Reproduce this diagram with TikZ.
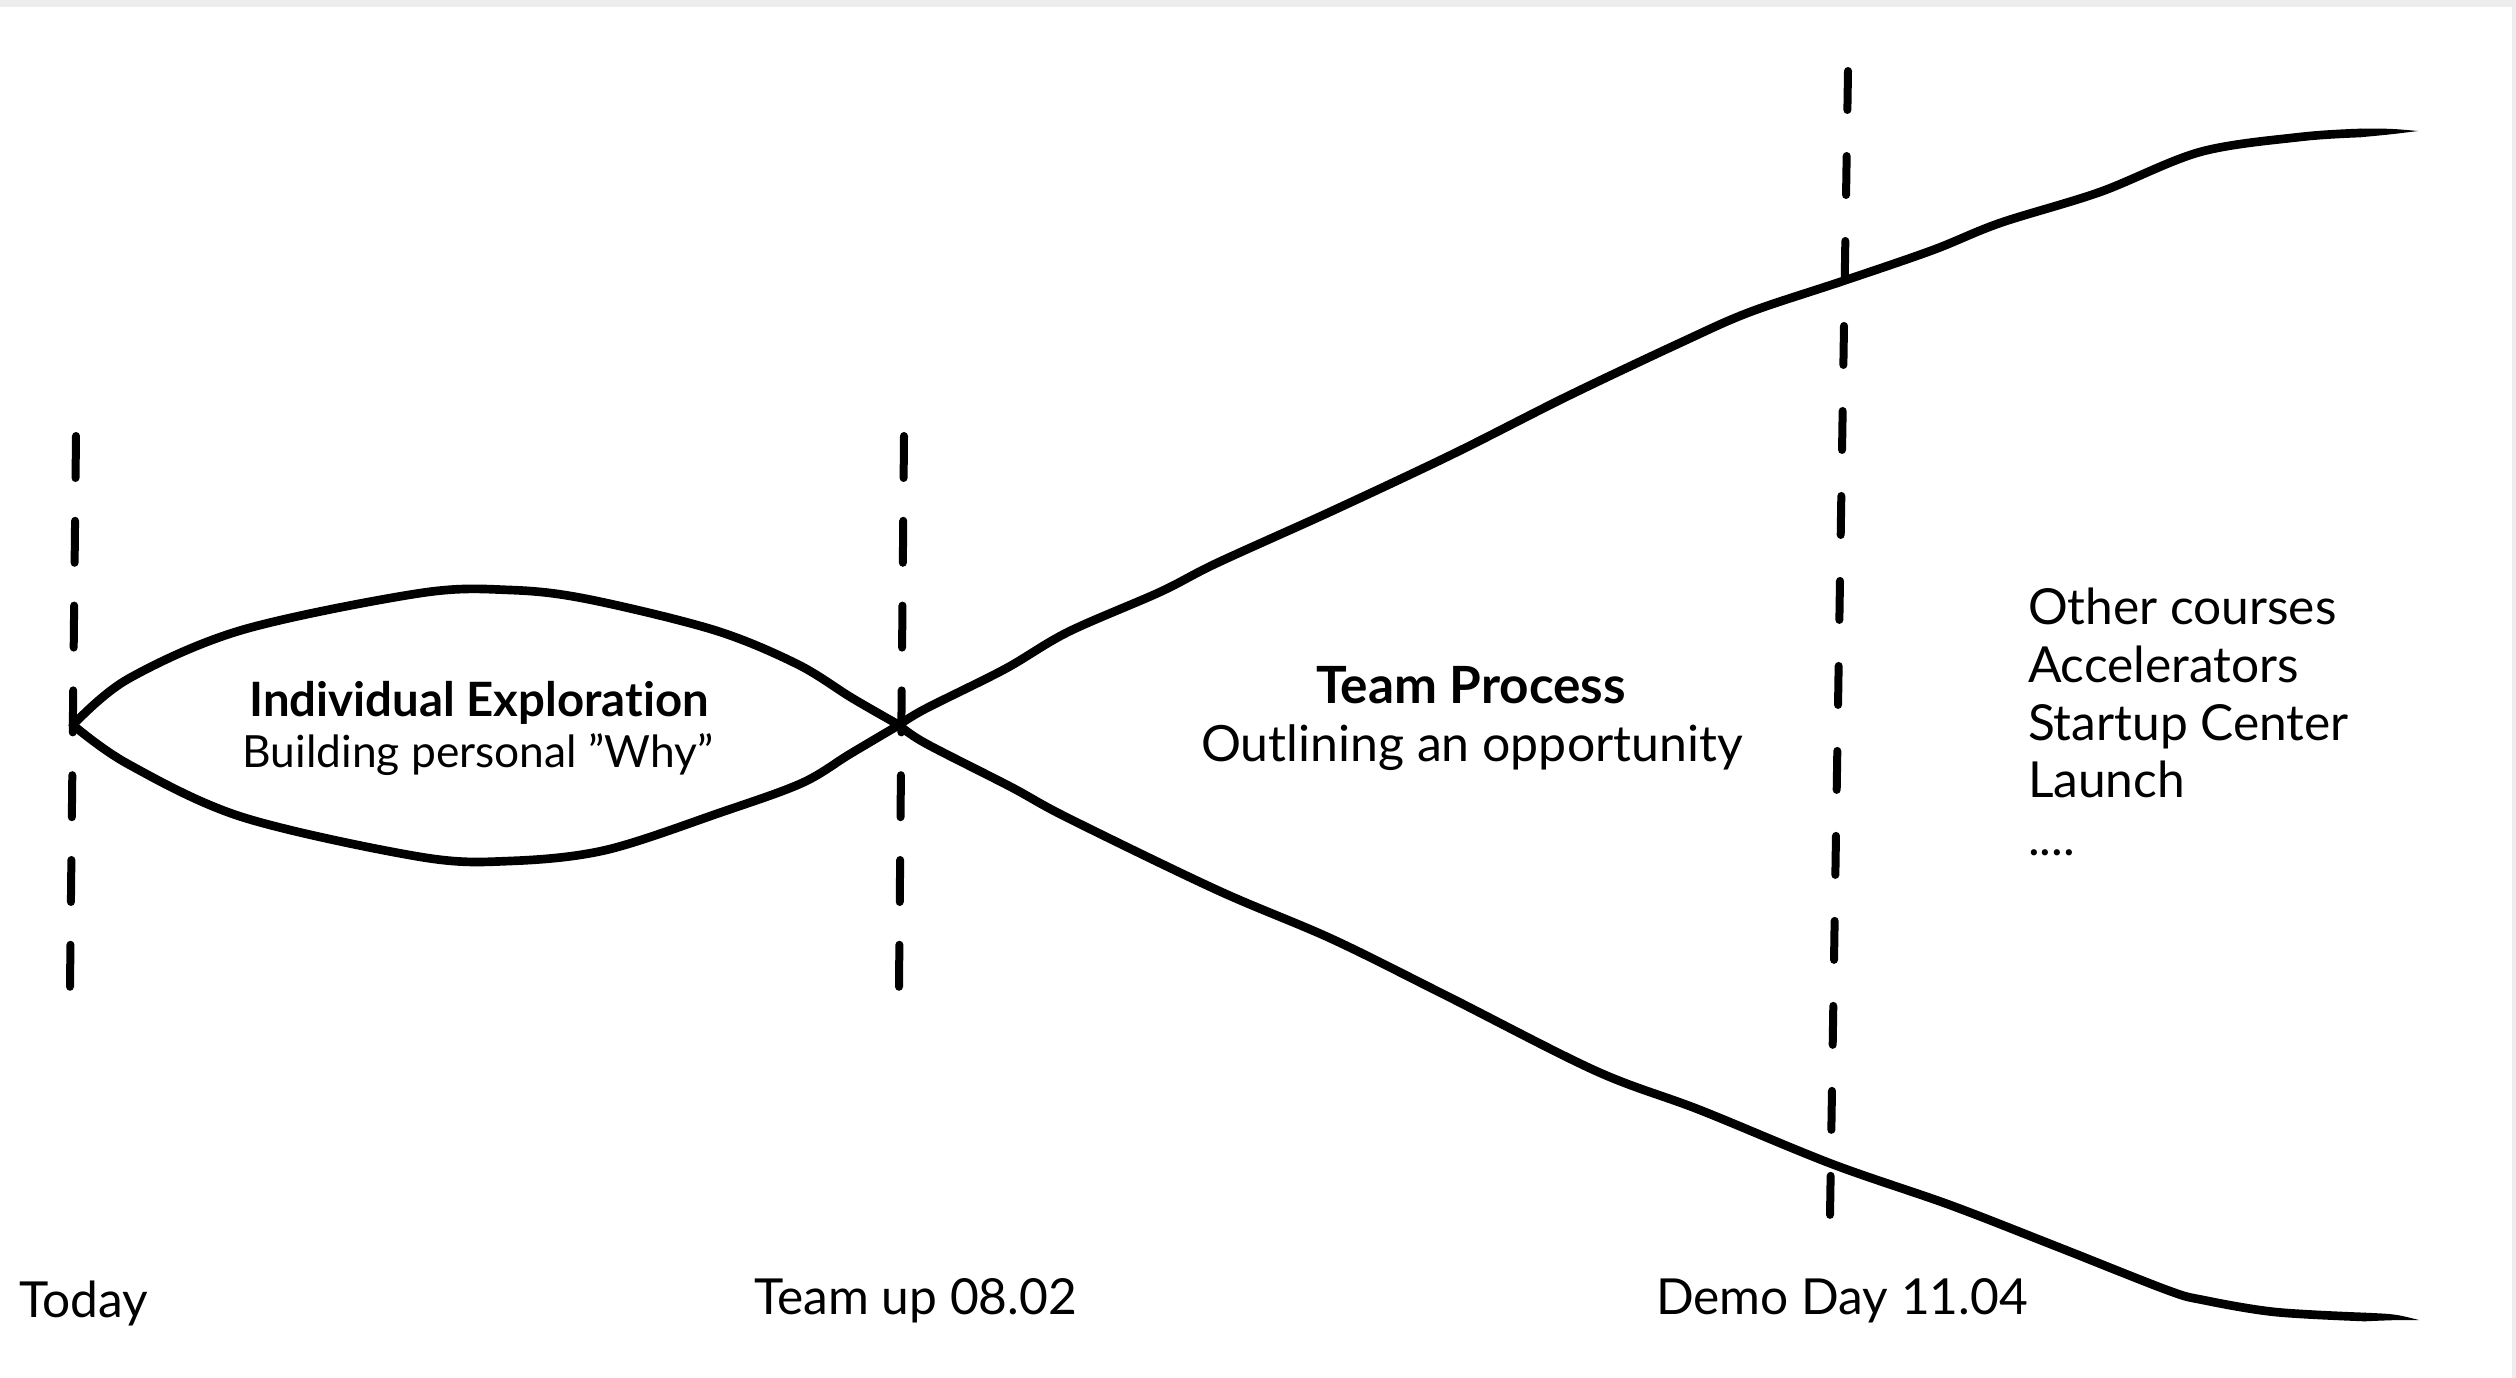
\documentclass[tikz,border=0pt]{standalone}
\usepackage{fontspec}
\setmainfont{Lato}[Ligatures=NoCommon]
\begin{document}
\begin{tikzpicture}[x=0.3pt,y=-0.3pt,
  curve/.style={line width=2.6pt, line cap=round, line join=round},
  taper/.style={fill=black, draw=none},
  dashline/.style={line width=2.4pt, line cap=round, dash pattern=on 12.6pt off 12.84pt},
  demodash/.style={line width=2.4pt, line cap=round, dash pattern=on 11.7pt off 13.8pt},
  band/.style={fill=black!7, draw=none},
  txt/.style={inner sep=0pt, outer sep=0pt},
  ttl/.style={txt, anchor=base, font=\fontsize{14.2}{17}\selectfont\bfseries},
  sub/.style={txt, anchor=base, font=\fontsize{13.3}{16}\selectfont},
  mainl/.style={txt, anchor=base, font=\fontsize{15}{18}\selectfont},
  item/.style={txt, anchor=base west, font=\fontsize{14.9}{18}\selectfont},
  datel/.style={txt, anchor=base west, font=\fontsize{14.9}{18}\selectfont}]
\useasboundingbox (0,0) rectangle (2516,1378);
\fill[band] (0,0) rectangle (2516,7);
\fill[band] (2512,7) rectangle (2516,1378);

% milestone dashed lines
\coordinate (todayT) at (76,436);  \coordinate (todayB) at (70,987);
\coordinate (teamT)  at (904,436); \coordinate (teamB)  at (899,987);
\coordinate (demoT)  at (1848,71); \coordinate (demoB)  at (1830,1216);
\draw[dashline] (todayT) -- (todayB);
\draw[dashline] (teamT) -- (teamB);
\draw[demodash] (demoT) -- (demoB);

% lens (individual exploration)
\coordinate (lensL) at (73,725);
\coordinate (lensR) at (899,725);
\draw[curve] plot[smooth, tension=0.55] coordinates {(73,725) (128,679) (242,630) (421,593) (510,590) (587,599) (714,630) (797,664) (852,698) (899,725)};
\draw[curve] plot[smooth, tension=0.55] coordinates {(73,725) (128,764) (242,817) (421,857) (510,861) (606,850) (722,812) (802,783) (850,754) (899,725)};

% funnel (team process)
\draw[curve] plot[smooth, tension=0.55] coordinates {(899,725) (925,709) (1005,669) (1068,632) (1160,592) (1217,563) (1332,511) (1453,454) (1568,396) (1682,342) (1750,312) (1843,281) (1933,250) (2000,223) (2100,192) (2200,152) (2300,137) (2360,133)};
\fill[taper] (2360,128.7) .. controls (2390,128.5) .. (2418,131) .. controls (2390,134.5) .. (2360,137.3) -- cycle;
\draw[curve] plot[smooth, tension=0.55] coordinates {(899,725) (925,743) (1011,787) (1068,818) (1217,890) (1332,939) (1447,996) (1596,1071) (1700,1110) (1832,1164) (1950,1205) (2058,1247) (2167,1290) (2203,1300) (2275,1312) (2365,1317)};
\fill[taper] (2365,1312.7) .. controls (2395,1314) .. (2419,1320) .. controls (2395,1320) .. (2365,1321.3) -- cycle;

% texts
\node[ttl] (ie) at (479,716) {Individual Exploration};
\node[sub] (bp) at (478,767) {Building personal ”Why”};
\node[ttl, font=\fontsize{15.4}{18}\selectfont\bfseries] (tp) at (1471,703) {Team Process};
\node[mainl] (oo) at (1472,761) {Outlining an opportunity};
\node[item] (l1) at (2028,624) {Other courses};
\node[item] (l2) at (2028,682) {Accelerators};
\node[item] (l3) at (2028,740) {Startup Center};
\node[item] (l4) at (2028,797) {Launch};
\node[item] (l5) at (2028,855) {....};
\node[datel] (d1) at (19,1317) {Today};
\node[datel] (d2) at (754,1314) {Team up 08.02};
\node[datel] (d3) at (1656,1314) {Demo Day 11.04};
\end{tikzpicture}
\end{document}
